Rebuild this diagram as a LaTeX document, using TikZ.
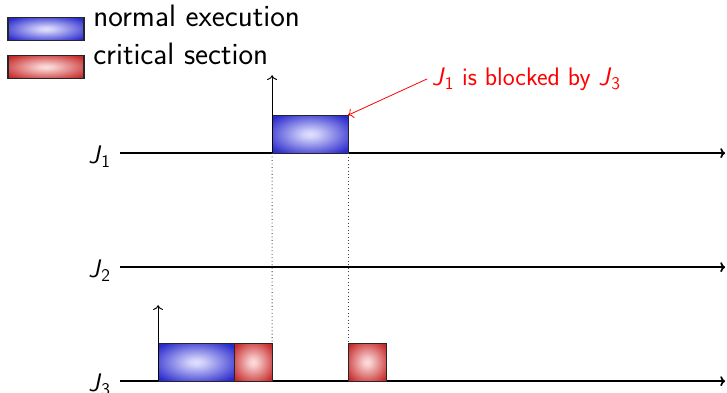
\documentclass[tikz,border=0pt]{standalone}
\usetikzlibrary{positioning,arrows.meta}
\definecolor{execout}{RGB}{42,42,205}
\definecolor{execin}{RGB}{225,225,255}
\definecolor{critout}{RGB}{198,42,42}
\definecolor{critin}{RGB}{253,222,222}
\pgfdeclareradialshading{execball}{\pgfpoint{0bp}{0bp}}{color(0bp)=(execin); color(5bp)=(execin!90!execout); color(32bp)=(execout); color(50bp)=(execout)}
\pgfdeclareradialshading{critball}{\pgfpoint{0bp}{0bp}}{color(0bp)=(critin); color(5bp)=(critin!90!critout); color(32bp)=(critout); color(50bp)=(critout)}
\begin{document}
\begin{tikzpicture}[
		every node/.style={font=\sffamily},
		>={To[length=3.6pt,width=7.5pt]},
		normal/.style={draw=black!85, line width=0.8pt, shading=execball, inner sep=0pt, outer sep=0pt, minimum height=1cm, anchor=south west},
		critical/.style={draw=black!85, line width=0.8pt, shading=critball, inner sep=0pt, outer sep=0pt, minimum height=1cm, anchor=south west},
		axis/.style={->, line width=1.3pt},
		jlabel/.style={anchor=base east, font=\sffamily\fontsize{19}{22}\selectfont},
		legendtext/.style={anchor=base west, font=\sffamily\fontsize{23.2}{27}\selectfont}
	]
	\useasboundingbox (-4.16,-0.29) rectangle (14.97,10.03);

	\node[normal, minimum width=2cm, minimum height=0.6cm] (legn) at (-3.95,8.97) {};
	\node[legendtext] (legntext) at (-1.83,9.34) {normal execution};
	\node[critical, minimum width=2cm, minimum height=0.6cm] (legc) at (-3.95,7.97) {};
	\node[legendtext] (legctext) at (-1.83,8.32) {critical section};

	\coordinate (a1) at (-1,6);
	\coordinate (a2) at (-1,3);
	\coordinate (a3) at (-1,0);
	\coordinate (e1) at (14.92,6);
	\coordinate (e2) at (14.92,3);
	\coordinate (e3) at (14.92,0);
	\node[jlabel] (J1) at (-1.12,5.74) {\textit{J}\textsubscript{1}};
	\node[jlabel] (J2) at (-1.12,2.74) {\textit{J}\textsubscript{2}};
	\node[jlabel] (J3) at (-1.12,-0.26) {\textit{J}\textsubscript{3}};
	\draw[axis] (a1) -- (e1);
	\draw[axis] (a2) -- (e2);
	\draw[axis] (a3) -- (e3);

	\node[normal, minimum width=2cm] (n3) at (0,0) {};
	\node[critical, minimum width=1cm] (c31) at (n3.south east) {};
	\node[critical, minimum width=1cm] (c32) at (5,0) {};
	\node[normal, minimum width=2cm] (n1) at (3,6) {};

	\coordinate (r3) at (0,2);
	\coordinate (r1) at (3,8.05);
	\draw[->, line width=0.7pt] (n3.south west) -- (r3);
	\draw[->, line width=0.7pt] (n1.south west) -- (r1);

	\draw[dotted, black!75, line width=0.6pt] (n1.south west) -- (c31.north east);
	\draw[dotted, black!75, line width=0.6pt] (n1.south east) -- (c32.north west);

	\node[anchor=base west, red, font=\sffamily\fontsize{19}{22}\selectfont] (note) at (7.08,7.79) {\textit{J}\textsubscript{1} is blocked by \textit{J}\textsubscript{3}};
	\draw[->, red, line width=0.6pt] (note.west) -- (n1.north east);
\end{tikzpicture}
\end{document}
